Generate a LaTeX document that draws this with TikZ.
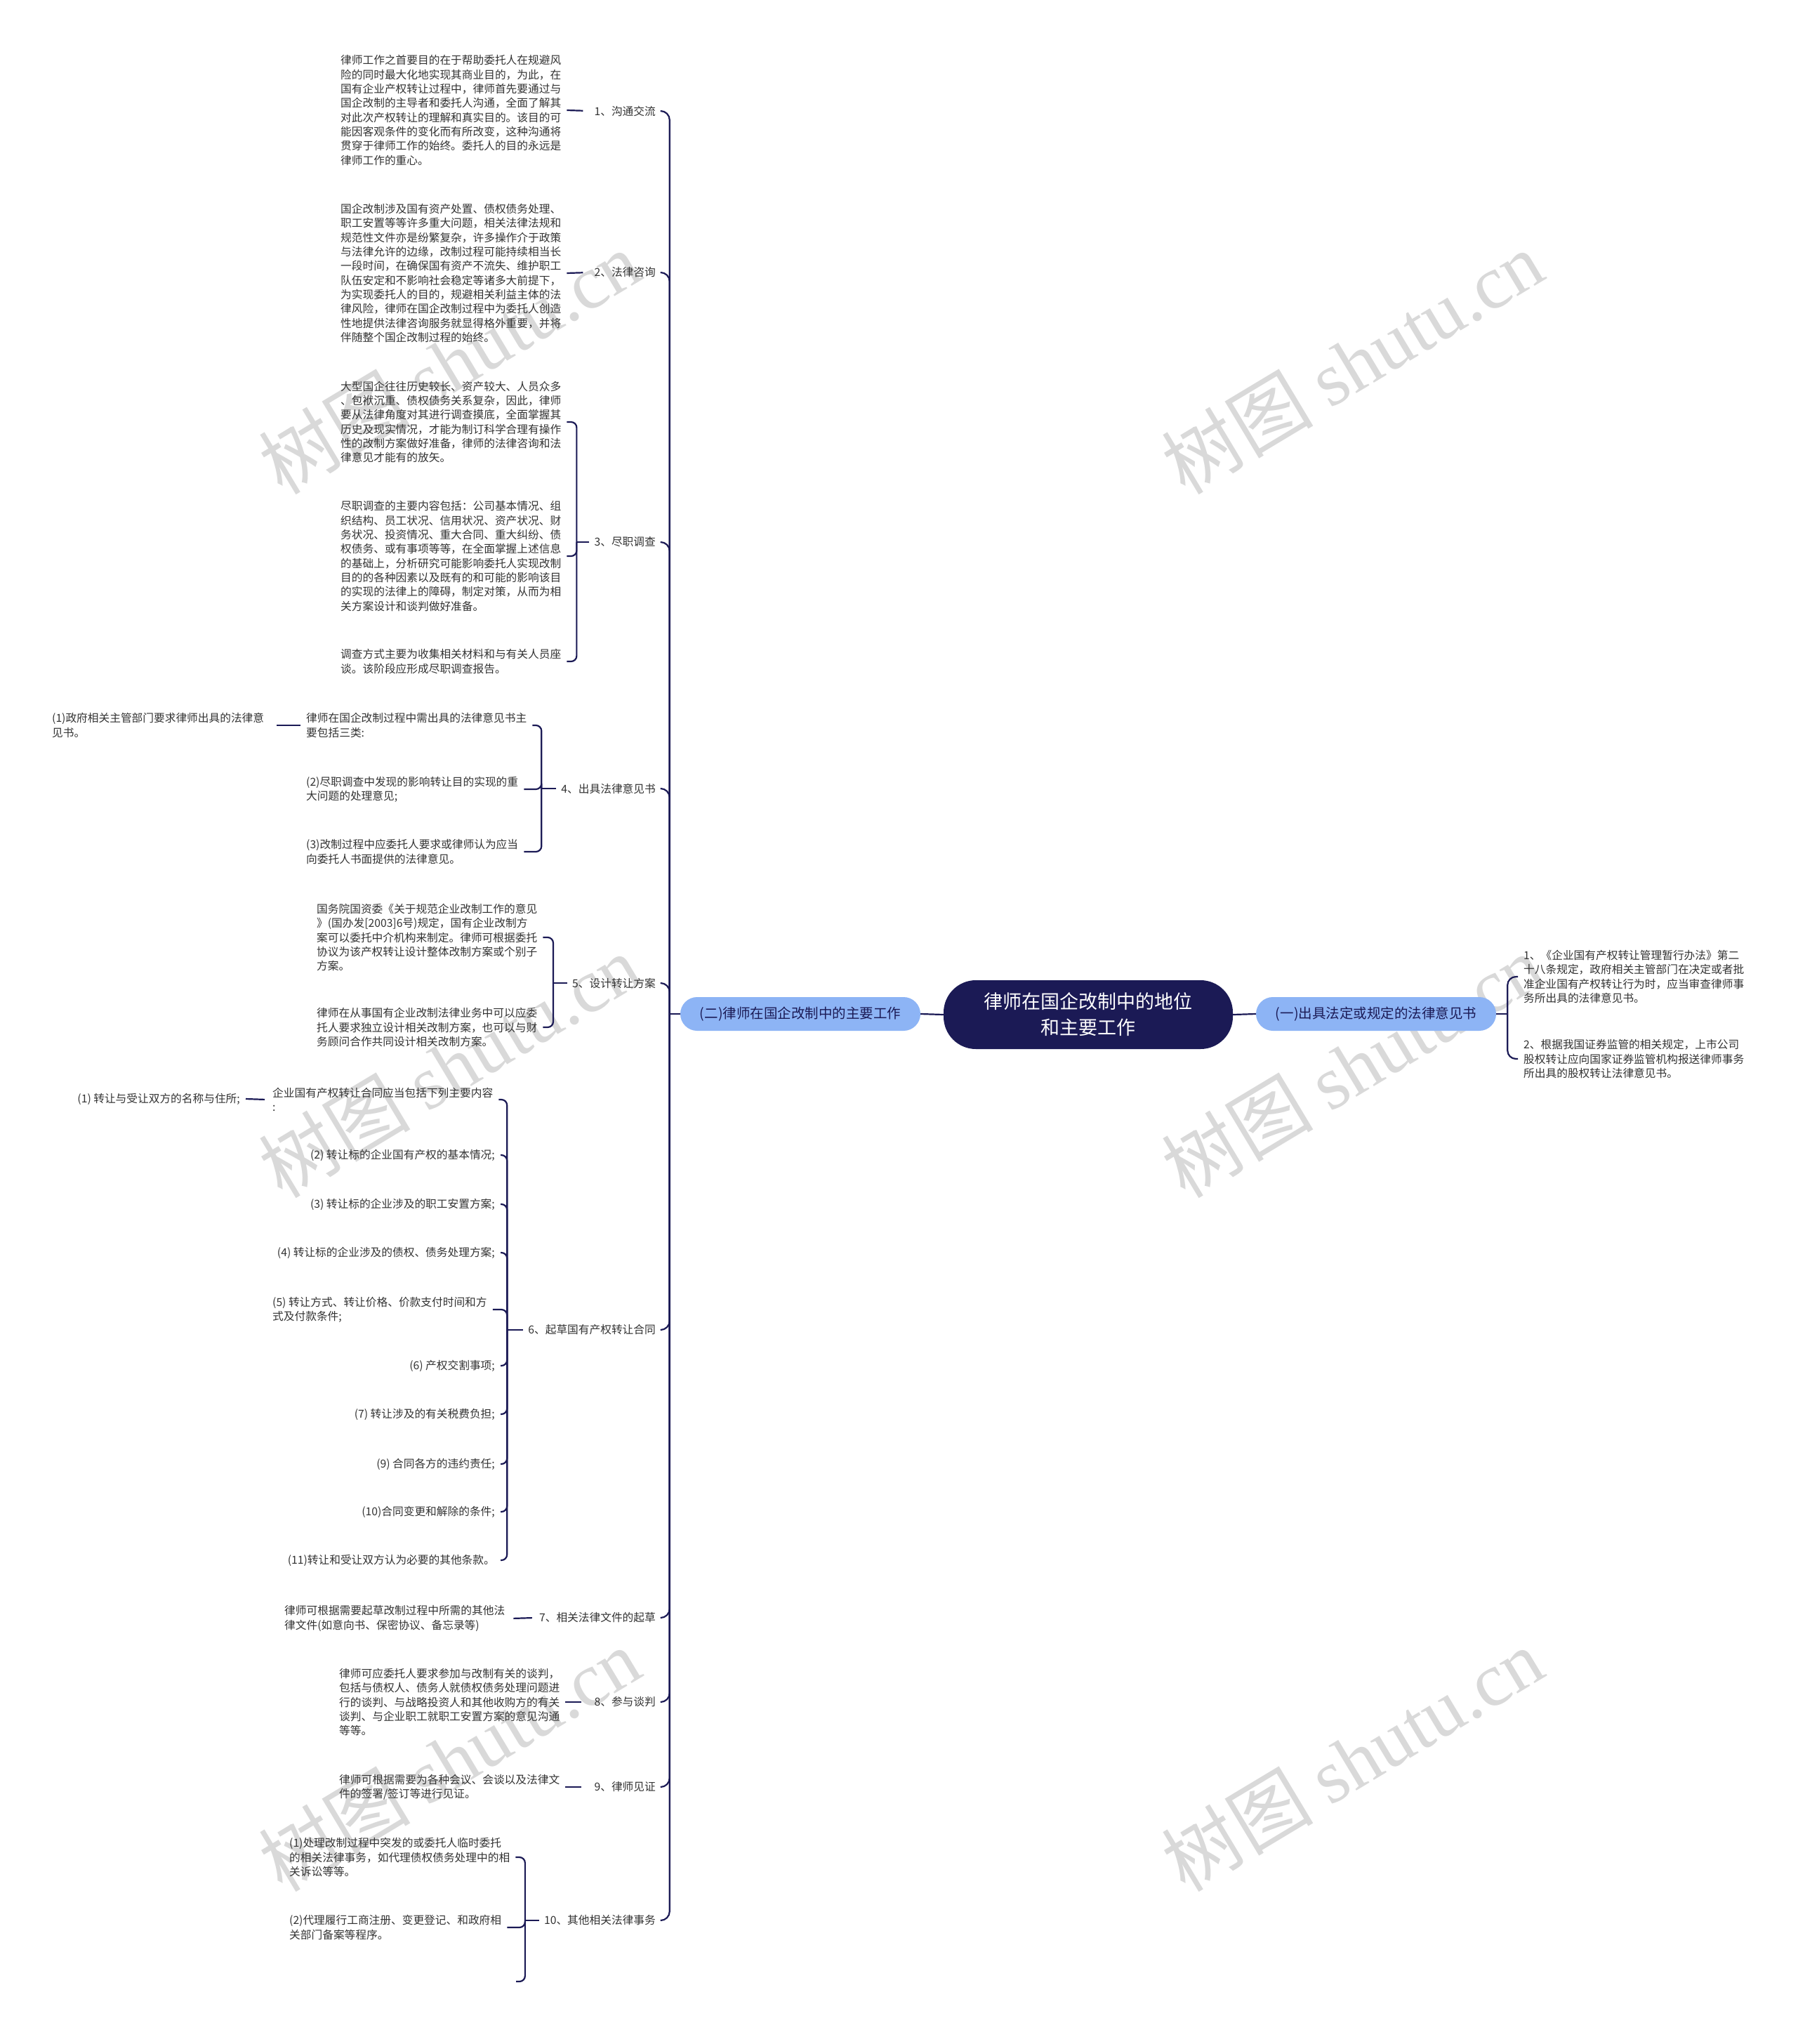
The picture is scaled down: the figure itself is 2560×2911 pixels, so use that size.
\documentclass[tikz,border=0pt]{standalone}
\usepackage{fontspec}
\newfontfamily\cjk{Noto Sans CJK SC}
\newfontfamily\wmserif{Liberation Serif}
\usetikzlibrary{calc}
\definecolor{navy}{HTML}{1B1A55}
\definecolor{lblue}{HTML}{8DB4F5}
\definecolor{leaftxt}{HTML}{333333}
\definecolor{wmcol}{HTML}{D9D9D9}
\tikzset{
  leaf/.style={font=\cjk\fontsize{15.7}{20.3}\selectfont, text=leaftxt, align=left, inner xsep=8pt, inner ysep=2pt},
  lab/.style={font=\cjk\fontsize{15.7}{20.3}\selectfont, text=leaftxt, inner xsep=7pt, inner ysep=2pt, anchor=east},
  conn/.style={draw=navy, line width=2.2pt},
  brk/.style={conn, rounded corners=8pt},
  spine/.style={conn, rounded corners=13pt},
  rootnode/.style={fill=navy, text=white, rounded corners=46pt, minimum width=412pt, minimum height=98pt, align=center, font=\cjk\fontsize{27}{37}\selectfont},
  branch/.style={fill=lblue, text=navy, rounded corners=24pt, minimum width=342pt, minimum height=48pt, font=\cjk\fontsize{19.5}{24}\selectfont},
  wmk/.style={rotate=31, text=wmcol, font=\cjk\fontsize{108}{110}\selectfont}
}
\begin{document}
\begin{tikzpicture}[x=1pt,y=-1pt]
\fill[white] (0,0) rectangle (2560,2911);
\path[use as bounding box] (0,0) rectangle (2560,2911);

% watermarks
\node[wmk] (w1) at (640,516) {树图 {\wmserif shutu.cn}};
\node[wmk] (w2) at (640,1518) {树图 {\wmserif shutu.cn}};
\node[wmk] (w3) at (640,2506) {树图 {\wmserif shutu.cn}};
\node[wmk] (w4) at (1926,516) {树图 {\wmserif shutu.cn}};
\node[wmk] (w5) at (1926,1518) {树图 {\wmserif shutu.cn}};
\node[wmk] (w6) at (1926,2506) {树图 {\wmserif shutu.cn}};

% center and branches
\node[rootnode] (root) at (1550,1445) {律师在国企改制中的地位\\和主要工作};
\node[branch] (b2) at (1140,1444) {(二)律师在国企改制中的主要工作};
\node[branch] (b1) at (1960,1444) {(一)出具法定或规定的法律意见书};
\draw[conn] (root.west) -- (b2.east);
\draw[conn] (root.east) -- (b1.west);

% right side
\node[leaf, anchor=west] (r1) at (2162,1391) {1、《企业国有产权转让管理暂行办法》第二\\十八条规定，政府相关主管部门在决定或者批\\准企业国有产权转让行为时，应当审查律师事\\务所出具的法律意见书。};
\node[leaf, anchor=west] (r2) at (2162,1508) {2、根据我国证券监管的相关规定，上市公司\\股权转让应向国家证券监管机构报送律师事务\\所出具的股权转让法律意见书。};
\coordinate (jr) at ([xshift=16pt]b1.east);
\draw[conn] (b1.east) -- (jr);
\draw[conn, rounded corners=12pt] (jr) |- (r1.west);
\draw[conn, rounded corners=12pt] (jr) |- (r2.west);

% labels on the left
\node[lab] (l1) at (941,158) {1、沟通交流};
\node[lab] (l2) at (941,388) {2、法律咨询};
\node[lab] (l3) at (941,772) {3、尽职调查};
\node[lab] (l4) at (941,1123) {4、出具法律意见书};
\node[lab] (l5) at (941,1400) {5、设计转让方案};
\node[lab] (l6) at (941,1894) {6、起草国有产权转让合同};
\node[lab] (l7) at (941,2304) {7、相关法律文件的起草};
\node[lab] (l8) at (941,2424) {8、参与谈判};
\node[lab] (l9) at (941,2545) {9、律师见证};
\node[lab] (l10) at (941,2735) {10、其他相关法律事务};

\coordinate (jL) at ([xshift=-15pt]b2.west);
\draw[conn] (b2.west) -- (jL);
\foreach \l in {l1,l2,l3,l4,l5,l6,l7,l8,l9,l10}{
  \draw[spine] (jL) |- (\l.east);
}

% item 1
\node[leaf, anchor=west] (c1) at (477,157) {律师工作之首要目的在于帮助委托人在规避风\\险的同时最大化地实现其商业目的，为此，在\\国有企业产权转让过程中，律师首先要通过与\\国企改制的主导者和委托人沟通，全面了解其\\对此次产权转让的理解和真实目的。该目的可\\能因客观条件的变化而有所改变，这种沟通将\\贯穿于律师工作的始终。委托人的目的永远是\\律师工作的重心。};
\draw[conn, shorten >=9pt] (c1.east) -- (l1.west);

% item 2
\node[leaf, anchor=west] (c2) at (477,389) {国企改制涉及国有资产处置、债权债务处理、\\职工安置等等许多重大问题，相关法律法规和\\规范性文件亦是纷繁复杂，许多操作介于政策\\与法律允许的边缘，改制过程可能持续相当长\\一段时间，在确保国有资产不流失、维护职工\\队伍安定和不影响社会稳定等诸多大前提下，\\为实现委托人的目的，规避相关利益主体的法\\律风险，律师在国企改制过程中为委托人创造\\性地提供法律咨询服务就显得格外重要，并将\\伴随整个国企改制过程的始终。};
\draw[conn, shorten >=9pt] (c2.east) -- (l2.west);

% item 3
\node[leaf, anchor=west] (c3a) at (477,601) {大型国企往往历史较长、资产较大、人员众多\\、包袱沉重、债权债务关系复杂，因此，律师\\要从法律角度对其进行调查摸底，全面掌握其\\历史及现实情况，才能为制订科学合理有操作\\性的改制方案做好准备，律师的法律咨询和法\\律意见才能有的放矢。};
\node[leaf, anchor=west] (c3b) at (477,792) {尽职调查的主要内容包括：公司基本情况、组\\织结构、员工状况、信用状况、资产状况、财\\务状况、投资情况、重大合同、重大纠纷、债\\权债务、或有事项等等，在全面掌握上述信息\\的基础上，分析研究可能影响委托人实现改制\\目的的各种因素以及既有的和可能的影响该目\\的实现的法律上的障碍，制定对策，从而为相\\关方案设计和谈判做好准备。};
\node[leaf, anchor=west] (c3c) at (477,942) {调查方式主要为收集相关材料和与有关人员座\\谈。该阶段应形成尽职调查报告。};
\coordinate (j3) at ([xshift=-18pt]l3.west);
\draw[conn] (l3.west) -- (j3);
\draw[brk] (j3) |- (c3a.east);
\draw[brk] (j3) |- (c3b.east);
\draw[brk] (j3) |- (c3c.east);

% item 4
\node[leaf, anchor=west] (c4s) at (428,1033) {律师在国企改制过程中需出具的法律意见书主\\要包括三类:};
\node[leaf, anchor=west] (c4s1) at (66,1033) {(1)政府相关主管部门要求律师出具的法律意\\见书。};
\node[leaf, anchor=west] (c4b) at (428,1124) {(2)尽职调查中发现的影响转让目的实现的重\\大问题的处理意见;};
\node[leaf, anchor=west] (c4c) at (428,1213) {(3)改制过程中应委托人要求或律师认为应当\\向委托人书面提供的法律意见。};
\draw[conn, shorten >=10pt] (c4s.west) -- (c4s1.east);
\coordinate (j4) at ([xshift=-21pt]l4.west);
\draw[conn] (l4.west) -- (j4);
\draw[brk] (j4) |- (c4s.east);
\draw[brk] (j4) |- (c4b.east);
\draw[brk] (j4) |- (c4c.east);

% item 5
\node[leaf, anchor=west] (c5a) at (443,1335) {国务院国资委《关于规范企业改制工作的意见\\》(国办发[2003]6号)规定，国有企业改制方\\案可以委托中介机构来制定。律师可根据委托\\协议为该产权转让设计整体改制方案或个别子\\方案。};
\node[leaf, anchor=west] (c5b) at (443,1463) {律师在从事国有企业改制法律业务中可以应委\\托人要求独立设计相关改制方案，也可以与财\\务顾问合作共同设计相关改制方案。};
\coordinate (j5) at ([xshift=-20pt]l5.west);
\draw[conn] (l5.west) -- (j5);
\draw[brk] (j5) |- (c5a.east);
\draw[brk] (j5) |- (c5b.east);

% item 6
\node[leaf, anchor=west] (c6s) at (380,1566) {企业国有产权转让合同应当包括下列主要内容\\:};
\node[leaf, anchor=east] (c6s1) at (350,1565) {(1) 转让与受让双方的名称与住所;};
\node[leaf, anchor=east] (c6b) at (713,1645) {(2) 转让标的企业国有产权的基本情况;};
\node[leaf, anchor=east] (c6c) at (713,1715) {(3) 转让标的企业涉及的职工安置方案;};
\node[leaf, anchor=east] (c6d) at (713,1784) {(4) 转让标的企业涉及的债权、债务处理方案;};
\node[leaf, anchor=west] (c6e) at (380,1865) {(5) 转让方式、转让价格、价款支付时间和方\\式及付款条件;};
\node[leaf, anchor=east] (c6f) at (713,1945) {(6) 产权交割事项;};
\node[leaf, anchor=east] (c6g) at (713,2014) {(7) 转让涉及的有关税费负担;};
\node[leaf, anchor=east] (c6h) at (713,2085) {(9) 合同各方的违约责任;};
\node[leaf, anchor=east] (c6i) at (713,2153) {(10)合同变更和解除的条件;};
\node[leaf, anchor=east] (c6j) at (713,2222) {(11)转让和受让双方认为必要的其他条款。};
\draw[conn, shorten <=3pt] (c6s.west) -- (c6s1.east);
\coordinate (j6) at ([xshift=-23pt]l6.west);
\draw[conn] (l6.west) -- (j6);
\foreach \c in {c6s,c6b,c6c,c6d,c6e,c6f,c6g,c6h,c6i,c6j}{
  \draw[brk] (j6) |- (\c.east);
}

% item 7
\node[leaf, anchor=west] (c7) at (397,2305) {律师可根据需要起草改制过程中所需的其他法\\律文件(如意向书、保密协议、备忘录等)};
\draw[conn, shorten <=4pt, shorten >=3pt] (c7.east) -- (l7.west);

% item 8
\node[leaf, anchor=west] (c8) at (475,2424) {律师可应委托人要求参加与改制有关的谈判，\\包括与债权人、债务人就债权债务处理问题进\\行的谈判、与战略投资人和其他收购方的有关\\谈判、与企业职工就职工安置方案的意见沟通\\等等。};
\draw[conn, shorten >=11pt] (c8.east) -- (l8.west);

% item 9
\node[leaf, anchor=west] (c9) at (475,2545) {律师可根据需要为各种会议、会谈以及法律文\\件的签署/签订等进行见证。};
\draw[conn, shorten >=11pt] (c9.east) -- (l9.west);

% item 10
\node[leaf, anchor=west] (c10a) at (404,2645) {(1)处理改制过程中突发的或委托人临时委托\\的相关法律事务，如代理债权债务处理中的相\\关诉讼等等。};
\node[leaf, anchor=west] (c10b) at (404,2745) {(2)代理履行工商注册、变更登记、和政府相\\关部门备案等程序。};
\coordinate (c10c) at (735,2822);
\coordinate (j10) at ([xshift=-20pt]l10.west);
\draw[conn] (l10.west) -- (j10);
\draw[brk] (j10) |- (c10a.east);
\draw[brk] (j10) |- (c10b.east);
\draw[brk] (j10) |- (c10c);
\end{tikzpicture}
\end{document}
